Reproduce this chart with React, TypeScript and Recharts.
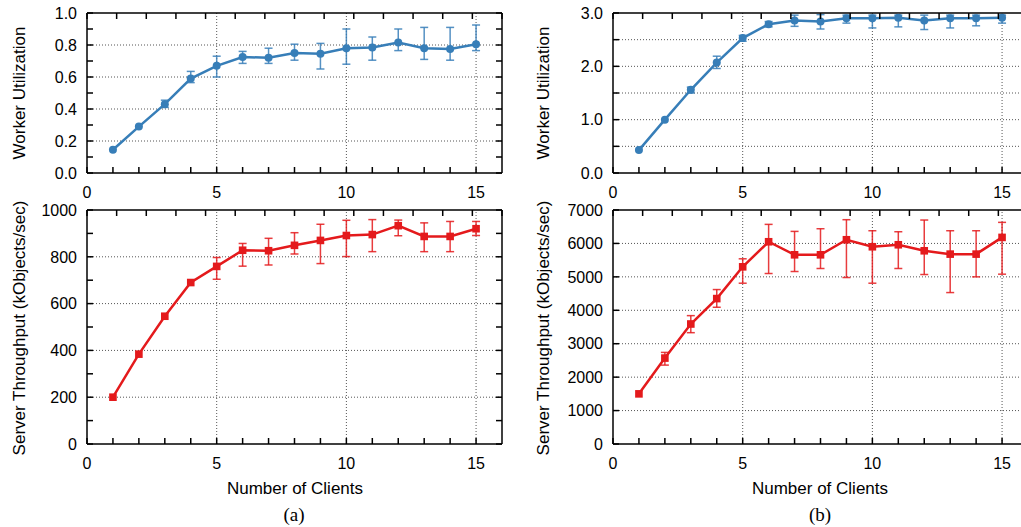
import React from "react";
import { LineChart, Line, XAxis, YAxis, ErrorBar, ReferenceLine } from "recharts";

// values
const clients = [1, 2, 3, 4, 5, 6, 7, 8, 9, 10, 11, 12, 13, 14, 15];

const utilA = [0.145, 0.29, 0.43, 0.59, 0.67, 0.725, 0.72, 0.75, 0.745, 0.78, 0.785, 0.815, 0.78, 0.775, 0.805];
const utilALow = [null, null, 0.41, 0.565, 0.6, 0.685, 0.685, 0.705, 0.65, 0.68, 0.705, 0.765, 0.71, 0.705, 0.765];
const utilAHigh = [null, null, 0.455, 0.635, 0.73, 0.76, 0.78, 0.805, 0.81, 0.9, 0.85, 0.9, 0.91, 0.91, 0.925];

const thrA = [200, 384, 546, 690, 759, 828, 826, 849, 870, 891, 895, 933, 887, 887, 920];
const thrALow = [null, null, null, null, 704, 760, 765, 812, 771, 801, 822, 890, 822, 822, 891];
const thrAHigh = [null, null, null, null, 797, 857, 879, 903, 939, 956, 959, 957, 945, 951, 951];

const utilB = [0.43, 1.0, 1.56, 2.07, 2.53, 2.79, 2.86, 2.84, 2.9, 2.9, 2.91, 2.86, 2.9, 2.9, 2.91];
const utilBLow = [null, null, 1.5, 1.96, 2.47, 2.74, 2.75, 2.7, 2.81, 2.72, 2.74, 2.69, 2.72, 2.76, 2.81];
const utilBHigh = [null, null, 1.61, 2.19, 2.58, 2.84, 2.96, 2.97, 2.96, 2.96, 2.96, 2.96, 2.96, 2.96, 2.96];

const thrB = [1500, 2570, 3590, 4350, 5300, 6050, 5660, 5660, 6110, 5900, 5960, 5780, 5680, 5680, 6180];
const thrBLow = [null, 2360, 3330, 4090, 4810, 5100, 5160, 5250, 4980, 4810, 5250, 5070, 4530, 5000, 5080];
const thrBHigh = [null, 2740, 3840, 4620, 5540, 6570, 6360, 6440, 6710, 6380, 6350, 6700, 6380, 6380, 6630];

// ticks
const xTicks = [0, 1, 2, 3, 4, 5, 6, 7, 8, 9, 10, 11, 12, 13, 14, 15];
const xLabels = [0, 5, 10, 15];
const xGrid = [5, 10, 15];

const utilATicks = [0, 0.1, 0.2, 0.3, 0.4, 0.5, 0.6, 0.7, 0.8, 0.9, 1.0];
const utilALabels = [0, 0.2, 0.4, 0.6, 0.8, 1.0];
const utilAGrid = [0.2, 0.4, 0.6, 0.8];

const thrATicks = [0, 100, 200, 300, 400, 500, 600, 700, 800, 900, 1000];
const thrALabels = [0, 200, 400, 600, 800, 1000];
const thrAGrid = [200, 400, 600, 800];

const utilBTicks = [0, 0.5, 1.0, 1.5, 2.0, 2.5, 3.0];
const utilBLabels = [0, 1.0, 2.0, 3.0];
const utilBGrid = [0.5, 1.0, 1.5, 2.0, 2.5];

const thrBTicks = [0, 1000, 2000, 3000, 4000, 5000, 6000, 7000];
const thrBLabels = [0, 1000, 2000, 3000, 4000, 5000, 6000, 7000];
const thrBGrid = [1000, 2000, 3000, 4000, 5000, 6000];

const BLUE = "#377eb8";
const RED = "#e41a1c";
const FONT = "'Liberation Sans', Arial, Helvetica, sans-serif";
const TICK_LEN = 6;
const TICK_COLOR = "#000";

type Row = { x: number; v: number; err: [number, number] | null };

function buildRows(vals: number[], low: (number | null)[], high: (number | null)[]): Row[] {
  return clients.map((c, i) => ({
    x: c,
    v: vals[i],
    err: low[i] == null || high[i] == null ? null : [vals[i] - (low[i] as number), (high[i] as number) - vals[i]],
  }));
}

function has(list: number[], v: number) {
  return list.some((l) => Math.abs(l - v) < 1e-9);
}

// tick mark drawn inward from the axis line, label (if any) outside
function AxisTick(props: any) {
  const { x, y, payload, side, labels, fmt } = props;
  if (x == null || y == null) return null;
  const v = payload?.value;
  const show = labels && has(labels, v);
  let line;
  let label = null;
  if (side === "bottom") {
    line = <line x1={x} x2={x} y1={y} y2={y - TICK_LEN} stroke={TICK_COLOR} strokeWidth={1.5} />;
    if (show)
      label = (
        <text x={x} y={y + 25} textAnchor="middle" fontSize={16} fontFamily={FONT} fill="#000">
          {fmt(v)}
        </text>
      );
  } else if (side === "top") {
    line = <line x1={x} x2={x} y1={y} y2={y + TICK_LEN} stroke={TICK_COLOR} strokeWidth={1.5} />;
  } else if (side === "left") {
    line = <line x1={x} x2={x + TICK_LEN} y1={y} y2={y} stroke={TICK_COLOR} strokeWidth={1.5} />;
    if (show)
      label = (
        <text x={x - 10} y={y + 5.7} textAnchor="end" fontSize={16} fontFamily={FONT} fill="#000">
          {fmt(v)}
        </text>
      );
  } else {
    line = <line x1={x} x2={x - TICK_LEN} y1={y} y2={y} stroke={TICK_COLOR} strokeWidth={1.5} />;
  }
  return (
    <g>
      {line}
      {label}
    </g>
  );
}

function CircleDot(props: any) {
  const { cx, cy } = props;
  if (cx == null || cy == null) return null;
  return <circle cx={cx} cy={cy} r={4} fill={BLUE} />;
}

function SquareDot(props: any) {
  const { cx, cy } = props;
  if (cx == null || cy == null) return null;
  return <rect x={cx - 3.8} y={cy - 3.8} width={7.6} height={7.6} fill={RED} />;
}

interface PanelProps {
  left: number;
  top: number;
  height: number;
  marginTop: number;
  data: Row[];
  yMax: number;
  yTicks: number[];
  yLabels: number[];
  yGrid: number[];
  fmt: (v: number) => string;
  color: string;
  square?: boolean;
}

const border = { stroke: "#000", strokeWidth: 1.5 };
const fmtX = (v: number) => String(v);

function Panel(p: PanelProps) {
  return (
    <div style={{ position: "absolute", left: p.left, top: p.top }}>
      <LineChart
        width={520}
        height={p.height}
        data={p.data}
        margin={{ top: p.marginTop - 1, left: 27, right: 17, bottom: 0 }}
      >
        {xGrid.map((g) => (
          <ReferenceLine key={"x" + g} x={g} stroke="#555" strokeDasharray="1 2" />
        ))}
        {p.yGrid.map((g) => (
          <ReferenceLine key={"y" + g} y={g} stroke="#555" strokeDasharray="1 2" />
        ))}
        <XAxis
          dataKey="x"
          type="number"
          domain={[0, 16]}
          allowDataOverflow
          ticks={xTicks}
          interval={0}
          height={27}
          tickSize={0}
          tickMargin={0}
          tickLine={false}
          axisLine={border}
          tick={<AxisTick side="bottom" labels={xLabels} fmt={fmtX} />}
        />
        <XAxis
          xAxisId="top"
          orientation="top"
          type="number"
          domain={[0, 16]}
          allowDataOverflow
          ticks={xTicks}
          interval={0}
          height={1}
          tickSize={0}
          tickMargin={0}
          tickLine={false}
          axisLine={border}
          tick={<AxisTick side="top" />}
        />
        <YAxis
          type="number"
          domain={[0, p.yMax]}
          allowDataOverflow
          ticks={p.yTicks}
          interval={0}
          width={60}
          tickSize={0}
          tickMargin={0}
          tickLine={false}
          axisLine={border}
          tick={<AxisTick side="left" labels={p.yLabels} fmt={p.fmt} />}
        />
        <YAxis
          yAxisId="right"
          orientation="right"
          type="number"
          domain={[0, p.yMax]}
          allowDataOverflow
          ticks={p.yTicks}
          interval={0}
          width={1}
          tickSize={0}
          tickMargin={0}
          tickLine={false}
          axisLine={border}
          tick={<AxisTick side="right" />}
        />
        <Line
          dataKey="v"
          stroke={p.color}
          strokeWidth={2.5}
          dot={p.square ? <SquareDot /> : <CircleDot />}
          activeDot={false}
          isAnimationActive={false}
        >
          <ErrorBar
            dataKey="err"
            direction="y"
            width={4}
            stroke={p.color}
            strokeOpacity={0.85}
            strokeWidth={1.5}
            isAnimationActive={false}
          />
        </Line>
      </LineChart>
    </div>
  );
}

function Title(props: { x: number; y: number; text: string; rotate?: boolean; serif?: boolean }) {
  return (
    <div
      style={{
        position: "absolute",
        left: props.x,
        top: props.y,
        transform: `translate(-50%, -50%)${props.rotate ? " rotate(-90deg)" : ""}`,
        whiteSpace: "nowrap",
        lineHeight: 1,
        fontFamily: props.serif ? "'Liberation Serif', 'Times New Roman', serif" : FONT,
        fontSize: props.serif ? 19 : 17,
        color: "#000",
      }}
    >
      {props.text}
    </div>
  );
}

const fmt1 = (v: number) => v.toFixed(1);
const fmt0 = (v: number) => String(v);

export default function App() {
  return (
    <div
      style={{
        position: "absolute",
        left: 0,
        top: 0,
        width: 1021,
        height: 527,
        overflow: "hidden",
        background: "#fff",
      }}
    >
      <Panel left={0} top={0} height={200} marginTop={13} data={buildRows(utilA, utilALow, utilAHigh)}
        yMax={1} yTicks={utilATicks} yLabels={utilALabels} yGrid={utilAGrid} fmt={fmt1} color={BLUE} />
      <Panel left={0} top={200} height={271} marginTop={10} data={buildRows(thrA, thrALow, thrAHigh)}
        yMax={1000} yTicks={thrATicks} yLabels={thrALabels} yGrid={thrAGrid} fmt={fmt0} color={RED} square />
      <Panel left={526} top={0} height={200} marginTop={13} data={buildRows(utilB, utilBLow, utilBHigh)}
        yMax={3} yTicks={utilBTicks} yLabels={utilBLabels} yGrid={utilBGrid} fmt={fmt1} color={BLUE} />
      <Panel left={526} top={200} height={271} marginTop={10} data={buildRows(thrB, thrBLow, thrBHigh)}
        yMax={7000} yTicks={thrBTicks} yLabels={thrBLabels} yGrid={thrBGrid} fmt={fmt0} color={RED} square />

      <Title x={18.5} y={93} text="Worker Utilization" rotate />
      <Title x={18.5} y={328} text="Server Throughput (kObjects/sec)" rotate />
      <Title x={543} y={93} text="Worker Utilization" rotate />
      <Title x={543} y={328} text="Server Throughput (kObjects/sec)" rotate />
      <Title x={295} y={488} text="Number of Clients" />
      <Title x={820} y={488} text="Number of Clients" />
      <Title x={294} y={514} text="(a)" serif />
      <Title x={820} y={514} text="(b)" serif />
    </div>
  );
}
